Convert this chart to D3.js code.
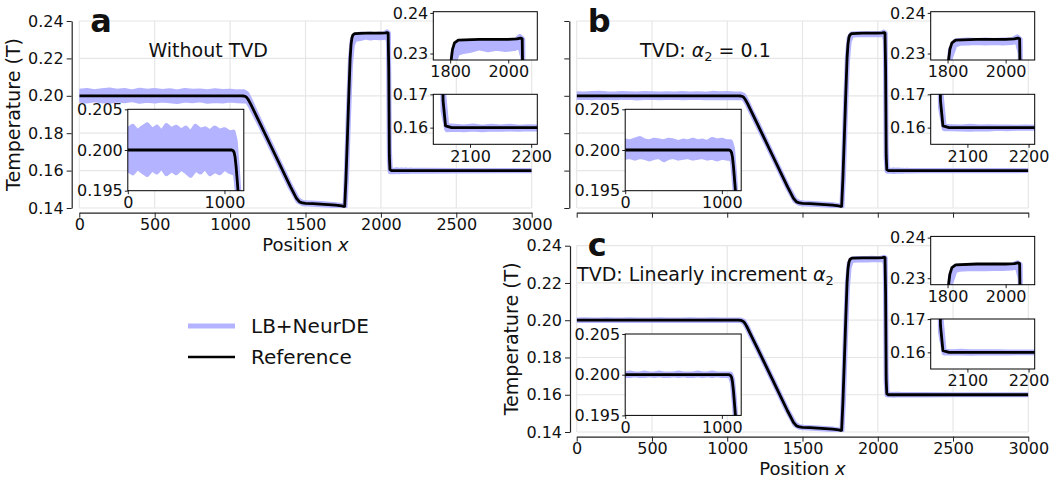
<!DOCTYPE html>
<html>
<head>
<meta charset="utf-8">
<script src="https://cdn.jsdelivr.net/npm/d3@7"></script>
<style>
  body { margin: 0; background: #fff; }
  svg { display: block; }
  text { font-family: "DejaVu Sans", sans-serif; fill: #111; }
</style>
</head>
<body>
<svg id="chart" width="1050" height="478"></svg>
<script>
// ---- data ----
const xTicks = [0, 500, 1000, 1500, 2000, 2500, 3000];
const yTicks = [0.14, 0.16, 0.18, 0.20, 0.22, 0.24];

// reference solution (same in all three panels)
const refX = [0, 1075, 1090, 1100, 1110, 1120, 1135, 1200, 1300, 1400, 1440, 1460, 1480, 1500,
  1550, 1600, 1650, 1700, 1740, 1755, 1760, 1768, 1778, 1788, 1796, 1802, 1808, 1815, 1828,
  1900, 2000, 2030, 2042, 2048, 2052, 2056, 2060, 2070, 3000];
const refT = [0.2000, 0.2000, 0.1999, 0.1997, 0.1991, 0.1980, 0.1958, 0.1850, 0.1682, 0.1514, 0.1452, 0.1433, 0.1427, 0.1425,
  0.1423, 0.1421, 0.1418, 0.1415, 0.1411, 0.1408, 0.1410, 0.1550, 0.1780, 0.2020, 0.2200, 0.2275, 0.2310, 0.2326, 0.2333,
  0.2335, 0.2335, 0.2336, 0.2338, 0.2336, 0.2150, 0.1680, 0.1605, 0.1600, 0.1600];

// LB+NeurDE: lower / upper envelope of the noisy solution
const blueX = [0, 50, 100, 150, 200, 250, 300, 350, 400, 450, 500, 550, 600, 650, 700, 750, 800, 850, 900, 950, 1000, 1050,
  1090, 1110, 1130, 1160, 1200, 1300, 1400, 1450, 1480, 1510, 1600, 1700, 1750,
  1762, 1772, 1785, 1798, 1810, 1825, 1840, 1870, 1900, 1930, 1960, 1990, 2020, 2040,
  2050, 2056, 2062, 2075, 2090, 2105, 2120, 2135, 2150, 2165, 2180, 2195, 2210, 2300, 2500, 3000];

const aLo = [0.1976, 0.1972, 0.1979, 0.1974, 0.1970, 0.1977, 0.1973, 0.1980, 0.1971, 0.1976, 0.1972, 0.1978, 0.1974, 0.1969, 0.1977, 0.1973, 0.1979, 0.1971, 0.1975, 0.1972, 0.1978, 0.1974,
  0.1972, 0.1975, 0.1952, 0.1905, 0.1842, 0.1676, 0.1509, 0.1437, 0.1423, 0.1421, 0.1418, 0.1412, 0.1406,
  0.1406, 0.1560, 0.1880, 0.2160, 0.2270, 0.2300, 0.2304, 0.2308, 0.2314, 0.2309, 0.2313, 0.2310, 0.2312, 0.2318,
  0.2290, 0.1650, 0.1594, 0.1595, 0.1594, 0.1596, 0.1594, 0.1596, 0.1595, 0.1596, 0.1595, 0.1597, 0.1596, 0.1597, 0.1598, 0.1599];
const aHi = [0.2025, 0.2029, 0.2022, 0.2027, 0.2031, 0.2024, 0.2028, 0.2021, 0.2030, 0.2025, 0.2028, 0.2023, 0.2027, 0.2020, 0.2029, 0.2024, 0.2026, 0.2022, 0.2027, 0.2023, 0.2025, 0.2021,
  0.2022, 0.2012, 0.1982, 0.1928, 0.1858, 0.1688, 0.1519, 0.1445, 0.1430, 0.1428, 0.1424, 0.1418, 0.1412,
  0.1414, 0.1610, 0.1930, 0.2200, 0.2300, 0.2322, 0.2326, 0.2330, 0.2328, 0.2331, 0.2327, 0.2330, 0.2329, 0.2342,
  0.2335, 0.1720, 0.1606, 0.1604, 0.1602, 0.1605, 0.1601, 0.1604, 0.1602, 0.1604, 0.1601, 0.1603, 0.1602, 0.1602, 0.1601, 0.1601];

const bLo = [0.1991, 0.1992, 0.1990, 0.1992, 0.1991, 0.1989, 0.1991, 0.1992, 0.1988, 0.1991, 0.1992, 0.1990, 0.1991, 0.1992, 0.1990, 0.1991, 0.1992, 0.1990, 0.1991, 0.1989, 0.1991, 0.1990,
  0.1990, 0.1986, 0.1960, 0.1910, 0.1845, 0.1679, 0.1511, 0.1438, 0.1424, 0.1422, 0.1419, 0.1413, 0.1407,
  0.1408, 0.1570, 0.1900, 0.2180, 0.2290, 0.2320, 0.2325, 0.2326, 0.2327, 0.2326, 0.2327, 0.2326, 0.2327, 0.2330,
  0.2300, 0.1660, 0.1597, 0.1597, 0.1596, 0.1595, 0.1597, 0.1596, 0.1598, 0.1597, 0.1598, 0.1598, 0.1598, 0.1599, 0.1599, 0.1600];
const bHi = [0.2011, 0.2010, 0.2012, 0.2014, 0.2011, 0.2010, 0.2012, 0.2011, 0.2010, 0.2012, 0.2011, 0.2009, 0.2011, 0.2010, 0.2012, 0.2010, 0.2011, 0.2009, 0.2013, 0.2011, 0.2012, 0.2010,
  0.2010, 0.2002, 0.1972, 0.1920, 0.1855, 0.1686, 0.1517, 0.1444, 0.1429, 0.1427, 0.1423, 0.1417, 0.1411,
  0.1414, 0.1610, 0.1940, 0.2210, 0.2310, 0.2330, 0.2332, 0.2333, 0.2332, 0.2333, 0.2332, 0.2333, 0.2333, 0.2341,
  0.2335, 0.1720, 0.1604, 0.1603, 0.1602, 0.1604, 0.1602, 0.1603, 0.1602, 0.1602, 0.1601, 0.1602, 0.1601, 0.1601, 0.1601, 0.1600];

const cLo = [0.1999, 0.1999, 0.2000, 0.1999, 0.1999, 0.2000, 0.1999, 0.2000, 0.1999, 0.1999, 0.2000, 0.1999, 0.2000, 0.1999, 0.1999, 0.2000, 0.1999, 0.2000, 0.1999, 0.2000, 0.1999, 0.1999,
  0.1998, 0.1989, 0.1963, 0.1912, 0.1847, 0.1680, 0.1512, 0.1439, 0.1425, 0.1423, 0.1419, 0.1413, 0.1407,
  0.1409, 0.1570, 0.1890, 0.2170, 0.2285, 0.2318, 0.2322, 0.2323, 0.2324, 0.2323, 0.2324, 0.2324, 0.2325, 0.2328,
  0.2300, 0.1660, 0.1598, 0.1598, 0.1598, 0.1597, 0.1598, 0.1598, 0.1599, 0.1598, 0.1599, 0.1599, 0.1599, 0.1599, 0.1600, 0.1600];
const cHi = [0.2001, 0.2002, 0.2001, 0.2001, 0.2002, 0.2001, 0.2001, 0.2002, 0.2001, 0.2001, 0.2001, 0.2002, 0.2001, 0.2001, 0.2001, 0.2002, 0.2001, 0.2001, 0.2002, 0.2001, 0.2001, 0.2001,
  0.2001, 0.1994, 0.1970, 0.1918, 0.1853, 0.1685, 0.1516, 0.1443, 0.1428, 0.1426, 0.1422, 0.1416, 0.1410,
  0.1413, 0.1610, 0.1930, 0.2200, 0.2305, 0.2328, 0.2330, 0.2331, 0.2331, 0.2331, 0.2332, 0.2331, 0.2332, 0.2338,
  0.2334, 0.1720, 0.1603, 0.1602, 0.1603, 0.1602, 0.1602, 0.1602, 0.1602, 0.1601, 0.1601, 0.1601, 0.1601, 0.1601, 0.1600, 0.1600];

// inset windows
const llX = [0, 1200], llY = [0.195, 0.205], llXTicks = [0, 1000], llYTicks = [0.195, 0.200, 0.205];
const urX = [1742, 2100], urY = [0.2284, 0.2403], urXTicks = [1800, 2000], urYTicks = [0.23, 0.24];
const lrX = [2040, 2210], lrY = [0.155, 0.170], lrXTicks = [2100, 2200], lrYTicks = [0.16, 0.17];

const legendLabels = ["LB+NeurDE", "Reference"];

// ---- drawing ----
const blue = "rgb(179,179,255)";
const gridColor = "#e6e6e6";
const svg = d3.select("#chart");
const defs = svg.append("defs");
let clipCount = 0;

function clipRect(x0, y0, x1, y1) {
  const id = "clip" + (clipCount++);
  defs.append("clipPath").attr("id", id)
    .append("rect").attr("x", x0).attr("y", y0).attr("width", x1 - x0).attr("height", y1 - y0);
  return `url(#${id})`;
}

function drawCurves(g, x, y, lo, hi, clip) {
  const band = d3.area()
    .x((d, i) => x(blueX[i]))
    .y0((d, i) => y(lo[i]))
    .y1((d, i) => y(hi[i]));
  g.append("path")
    .datum(lo)
    .attr("clip-path", clip)
    .attr("d", band)
    .attr("fill", blue)
    .attr("stroke", blue)
    .attr("stroke-width", 5)
    .attr("stroke-linejoin", "round");

  const line = d3.line()
    .x((d, i) => x(refX[i]))
    .y(d => y(d));
  g.append("path")
    .datum(refT)
    .attr("clip-path", clip)
    .attr("d", line)
    .attr("fill", "none")
    .attr("stroke", "#000")
    .attr("stroke-width", 2.8)
    .attr("stroke-linejoin", "round");
}

function styleAxis(sel) {
  sel.attr("font-size", 16).attr("font-family", null);
  sel.selectAll("line").attr("stroke", "#222").attr("stroke-width", 1);
  sel.selectAll("text").attr("fill", "#111");
}

function drawInset(g, box, xd, yd, xt, yt, yfmt, lo, hi) {
  const x = d3.scaleLinear().domain(xd).range([box.x0, box.x1]);
  const y = d3.scaleLinear().domain(yd).range([box.y1, box.y0]);

  g.append("rect")
    .attr("x", box.x0).attr("y", box.y0)
    .attr("width", box.x1 - box.x0).attr("height", box.y1 - box.y0)
    .attr("fill", "#fff");

  drawCurves(g, x, y, lo, hi, clipRect(box.x0, box.y0, box.x1, box.y1));

  g.append("g")
    .attr("transform", `translate(0,${box.y1})`)
    .call(d3.axisBottom(x).tickValues(xt).tickSize(3.5).tickPadding(2.5).tickSizeOuter(0).tickFormat(d3.format("d")))
    .call(styleAxis)
    .call(a => a.select(".domain").remove());

  g.append("g")
    .attr("transform", `translate(${box.x0},0)`)
    .call(d3.axisLeft(y).tickValues(yt).tickSize(3).tickPadding(2).tickSizeOuter(0).tickFormat(d3.format(yfmt)))
    .call(styleAxis)
    .call(a => a.select(".domain").remove());

  g.append("rect")
    .attr("x", box.x0).attr("y", box.y0)
    .attr("width", box.x1 - box.x0).attr("height", box.y1 - box.y0)
    .attr("fill", "none")
    .attr("stroke", "#000")
    .attr("stroke-width", 1);
}

function addTitle(g, cx, y, parts) {
  const t = g.append("text")
    .attr("x", cx).attr("y", y)
    .attr("text-anchor", "middle")
    .attr("font-size", 19);
  parts.forEach(p => {
    const s = t.append("tspan").text(p.t);
    if (p.it) s.attr("font-style", "italic");
    if (p.sub) s.attr("font-size", 13).attr("dy", 4);
    if (p.up) s.attr("dy", -4);
  });
}

const panels = [
  { letter: "a", L: 79.3, R: 531.7, T: 21, B: 208, spineX: 71.7, spineY: 212.7, labels: true,
    lo: aLo, hi: aHi, title: [{ t: "Without TVD" }] },
  { letter: "b", L: 576.7, R: 1028.3, T: 21, B: 208, spineX: 569.3, spineY: 212.7, labels: false,
    lo: bLo, hi: bHi, title: [{ t: "TVD: " }, { t: "α", it: true }, { t: "2", sub: true }, { t: " = 0.1", up: true }] },
  { letter: "c", L: 576.7, R: 1028.3, T: 245.7, B: 432, spineX: 570, spineY: 436.7, labels: true,
    lo: cLo, hi: cHi, title: [{ t: "TVD: Linearly increment " }, { t: "α", it: true }, { t: "2", sub: true }] }
];

panels.forEach(p => {
  const g = svg.append("g");
  const x = d3.scaleLinear().domain([0, 3000]).range([p.L, p.R]);
  const y = d3.scaleLinear().domain([0.14, 0.24]).range([p.B, p.T]);

  // grid
  g.append("g").selectAll("line").data(xTicks).join("line")
    .attr("x1", d => x(d)).attr("x2", d => x(d))
    .attr("y1", p.T).attr("y2", p.B)
    .attr("stroke", gridColor).attr("stroke-width", 1.2);
  g.append("g").selectAll("line").data(yTicks).join("line")
    .attr("y1", d => y(d)).attr("y2", d => y(d))
    .attr("x1", p.L).attr("x2", p.R)
    .attr("stroke", gridColor).attr("stroke-width", 1.2);

  // offset spines
  g.append("g")
    .attr("transform", `translate(0,${p.spineY})`)
    .call(d3.axisBottom(x).tickValues(xTicks).tickSize(5).tickPadding(1).tickSizeOuter(0)
      .tickFormat(p.labels ? d3.format("d") : ""))
    .call(styleAxis)
    .call(a => a.select(".domain").attr("stroke", "#222").attr("stroke-width", 1.2));
  g.append("g")
    .attr("transform", `translate(${p.spineX},0)`)
    .call(d3.axisLeft(y).tickValues(yTicks).tickSize(5).tickPadding(3).tickSizeOuter(0)
      .tickFormat(p.letter === "b" ? "" : d3.format(".2f")))
    .call(styleAxis)
    .call(a => a.select(".domain").attr("stroke", "#222").attr("stroke-width", 1.2));

  drawCurves(g, x, y, p.lo, p.hi, clipRect(p.L, p.T, p.R, p.B));

  if (p.labels) {
    g.append("text")
      .attr("x", (p.L + p.R) / 2).attr("y", p.spineY + 38.5)
      .attr("text-anchor", "middle").attr("font-size", 18)
      .call(t => {
        t.append("tspan").text("Position ");
        t.append("tspan").attr("font-style", "italic").text("x");
      });
  }
  if (p.letter !== "b") {
    g.append("text")
      .attr("transform", `translate(${p.spineX - 52},${(p.T + p.B) / 2}) rotate(-90)`)
      .attr("text-anchor", "middle").attr("font-size", 19)
      .text("Temperature (T)");
  }

  g.append("text")
    .attr("x", p.L + 11).attr("y", p.T + 10.7)
    .attr("font-size", 32).attr("font-weight", "bold")
    .text(p.letter);

  addTitle(g, p.L + 0.285 * (p.R - p.L), p.T + 35.5, p.title);

  // insets
  drawInset(g, { x0: p.L + 48.5, x1: p.L + 164.5, y0: p.T + 88.3, y1: p.T + 169.7 },
    llX, llY, llXTicks, llYTicks, ".3f", p.lo, p.hi);
  drawInset(g, { x0: p.L + 354, x1: p.L + 458, y0: p.T - 9.3, y1: p.T + 39 },
    urX, urY, urXTicks, urYTicks, ".2f", p.lo, p.hi);
  drawInset(g, { x0: p.L + 354, x1: p.L + 458, y0: p.T + 73.3, y1: p.T + 123.3 },
    lrX, lrY, lrXTicks, lrYTicks, ".2f", p.lo, p.hi);
});

// legend
const leg = svg.append("g");
const legStyles = [{ c: blue, w: 5 }, { c: "#000", w: 2.6 }];
leg.selectAll("line").data(legendLabels).join("line")
  .attr("x1", 188).attr("x2", 235)
  .attr("y1", (d, i) => 326 + i * 31).attr("y2", (d, i) => 326 + i * 31)
  .attr("stroke", (d, i) => legStyles[i].c)
  .attr("stroke-width", (d, i) => legStyles[i].w);
leg.selectAll("text").data(legendLabels).join("text")
  .attr("x", 251).attr("y", (d, i) => 333 + i * 31)
  .attr("font-size", 20)
  .text(d => d);
</script>
</body>
</html>
